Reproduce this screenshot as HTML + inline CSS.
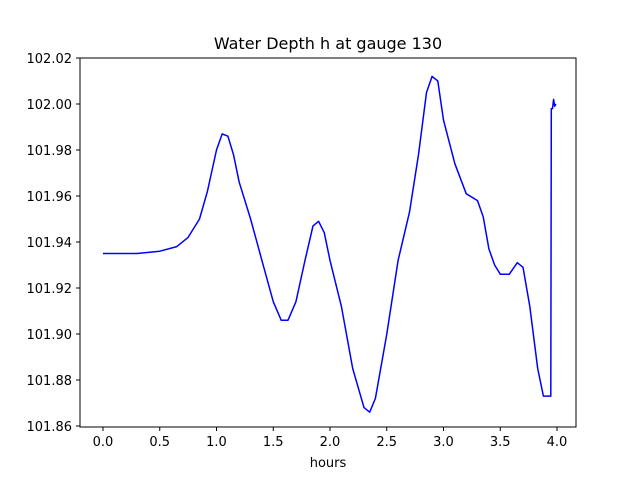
<!DOCTYPE html>
<html><head><meta charset="utf-8"><style>
html,body{margin:0;padding:0;background:#fff;}
svg{display:block;font-family:"DejaVu Sans","Liberation Sans",sans-serif;}
</style></head><body>
<svg id="chart" width="640" height="480">
<rect x="0" y="0" width="640" height="480" fill="#fff"/>
<text x="328" y="49" text-anchor="middle" font-size="16">Water Depth h at gauge 130</text>
<g id="ticks"></g>
<path id="series" fill="none" stroke="#0000ff" stroke-width="1.5" stroke-linejoin="round"/>
<rect x="80" y="58" width="496" height="369" fill="none" stroke="#000" stroke-width="1"/>
<text x="328" y="467" text-anchor="middle" font-size="13">hours</text>
</svg>
<script>
const hours=[0,0.3,0.5,0.65,0.75,0.85,0.92,1.0,1.05,1.1,1.15,1.2,1.3,1.4,1.5,1.57,1.63,1.7,1.78,1.85,1.9,1.95,2.0,2.1,2.2,2.3,2.35,2.4,2.5,2.6,2.7,2.78,2.85,2.9,2.95,3.0,3.1,3.2,3.3,3.35,3.4,3.45,3.5,3.58,3.65,3.7,3.76,3.83,3.88,3.93,3.945,3.95,3.96,3.97,3.98,3.99];
const depth=[101.935,101.935,101.936,101.938,101.942,101.950,101.962,101.980,101.987,101.986,101.978,101.966,101.950,101.932,101.914,101.906,101.906,101.914,101.932,101.947,101.949,101.944,101.932,101.912,101.885,101.868,101.866,101.872,101.900,101.932,101.953,101.978,102.005,102.012,102.010,101.993,101.974,101.961,101.958,101.951,101.937,101.930,101.926,101.926,101.931,101.929,101.912,101.885,101.873,101.873,101.873,101.998,101.998,102.002,101.999,102.000];
const xTicks=[0,0.5,1,1.5,2,2.5,3,3.5,4];
const xTickLabels=["0.0","0.5","1.0","1.5","2.0","2.5","3.0","3.5","4.0"];
const yTicks=[101.86,101.88,101.90,101.92,101.94,101.96,101.98,102.00,102.02];
const yTickLabels=["101.86","101.88","101.90","101.92","101.94","101.96","101.98","102.00","102.02"];
const NS="http://www.w3.org/2000/svg";
function xs(v){return 103+v*113.5;}
function ys(v){return 104+(102.00-v)*2300;}
const g=document.getElementById('ticks');
function mk(tag,attrs){const e=document.createElementNS(NS,tag);for(const k in attrs)e.setAttribute(k,attrs[k]);return e;}
xTicks.forEach((t,i)=>{
  const l=mk('line',{x1:xs(t),x2:xs(t),y1:427,y2:431,stroke:'#000'});
  
  
  g.appendChild(l);
  const tx=mk('text',{x:xs(t),y:446,'text-anchor':'middle','font-size':13});
  
  
  tx.textContent=xTickLabels[i];g.appendChild(tx);
});
yTicks.forEach((t,i)=>{
  const l=mk('line',{x1:76,x2:80,y1:ys(t),y2:ys(t),stroke:'#000'});
  
  
  g.appendChild(l);
  const tx=mk('text',{x:72,y:ys(t)+5,'text-anchor':'end','font-size':13});
  
  
  tx.textContent=yTickLabels[i];g.appendChild(tx);
});
let d='';
hours.forEach((h,i)=>{d+=(i?'L':'M')+xs(h).toFixed(1)+','+ys(depth[i]).toFixed(1);});
document.getElementById('series').setAttribute('d',d);
</script>
</body></html>
